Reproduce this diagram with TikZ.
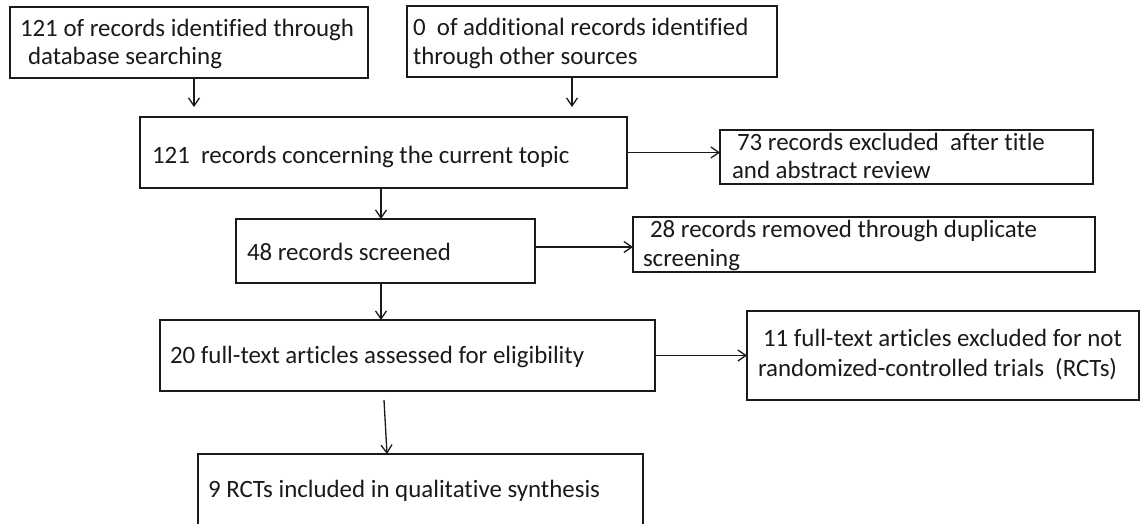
\documentclass[tikz,border=0pt]{standalone}
\usepackage{fontspec}
\setmainfont{Carlito}[Ligatures=NoCommon]
\usetikzlibrary{arrows.meta}
\definecolor{ink}{HTML}{1A1A1A}
\begin{document}
\begin{tikzpicture}[x=1pt,y=-1pt,
  box/.style={draw=ink, line width=1.5pt, rectangle, inner sep=0pt, outer sep=0pt},
  txt/.style={inner sep=0pt, outer sep=0pt, anchor=base west, text=ink, font=\fontsize{24.9}{29}\selectfont},
  arr/.style={draw=ink, line width=1.3pt, -{Straight Barb[length=8pt,width=11pt,line width=1.3pt]}}]
\useasboundingbox (0,0) rectangle (1140,523);
\clip (0,0) rectangle (1140,523);
\fill[white] (0,0) rectangle (1140,523);
% boxes
\node[box, minimum width=358pt, minimum height=71pt] (A) at (189,42.5) {};
\node[box, minimum width=370pt, minimum height=71pt] (B) at (592,41.5) {};
\node[box, minimum width=487pt, minimum height=71pt] (C) at (383.5,152.5) {};
\node[box, minimum width=373pt, minimum height=54pt] (D) at (906.5,157) {};
\node[box, minimum width=299pt, minimum height=64pt] (S) at (385.5,251) {};
\node[box, minimum width=462pt, minimum height=55pt] (R) at (864,244.5) {};
\node[box, minimum width=495pt, minimum height=71pt] (E) at (407.5,355.5) {};
\node[box, minimum width=392pt, minimum height=89pt] (X) at (943,355.5) {};
\node[box, minimum width=445pt, minimum height=106pt] (F) at (420.5,507) {};
% texts
\node[txt] (A1) at (20,36) {121 of records identified through};
\node[txt] (A2) at (28,64) {database searching};
\node[txt] (B1) at (413,35) {0\ \ of additional records identified};
\node[txt] (B2) at (413,64) {through other sources};
\node[txt] (C1) at (152,163) {121\ \ records concerning the current topic};
\node[txt] (D1) at (737,150) {73 records excluded\ \ after title};
\node[txt] (D2) at (732,178) {and abstract review};
\node[txt] (S1) at (247,260) {48 records screened};
\node[txt] (R1) at (650,237) {28 records removed through duplicate};
\node[txt] (R2) at (643,266) {screening};
\node[txt] (E1) at (170,363) {20 full-text articles assessed for eligibility};
\node[txt] (X1) at (763,346) {11 full-text articles excluded for not};
\node[txt] (X2) at (758,376) {randomized-controlled trials\ \ (RCTs)};
\node[txt] (F1) at (208,497) {9 RCTs included in qualitative synthesis};
% connectors
\draw[arr, shorten >=10pt] ([xshift=5pt]A.south) -- ([xshift=5pt]A.south |- C.north);
\draw[arr, shorten >=10pt] ([xshift=-20pt]B.south) -- ([xshift=-20pt]B.south |- C.north);
\draw[arr] (C.east) -- (C.east -| D.west);
\draw[arr] ([xshift=-2.5pt]C.south) -- ([xshift=-2.5pt]C.south |- S.north);
\draw[arr] ([yshift=4pt]S.east) -- ([yshift=4pt]S.east -| R.west);
\draw[arr] ([xshift=-4.5pt]S.south) -- ([xshift=-4.5pt]S.south |- E.north);
\draw[arr] (E.east) -- (E.east -| X.west);
\draw[arr] ([shift={(-23.5pt,-9pt)}]E.south) -- ([xshift=-33.5pt]F.north);
\end{tikzpicture}
\end{document}
